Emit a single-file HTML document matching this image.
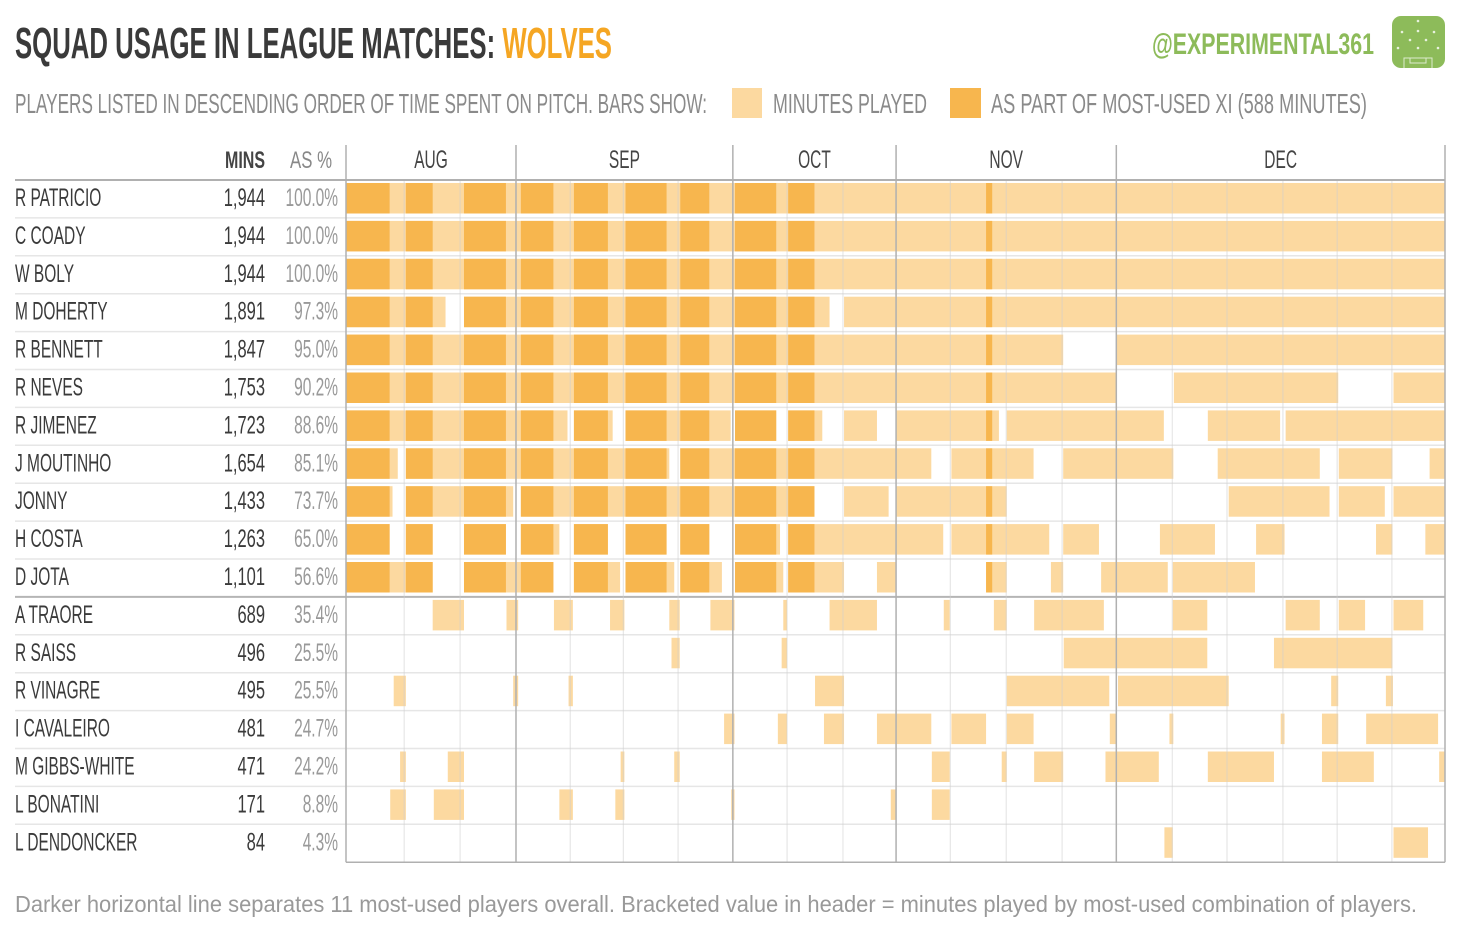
<!DOCTYPE html>
<html><head><meta charset="utf-8">
<style>
html,body{margin:0;padding:0;background:#fff;}
svg{display:block;}
text{font-family:"Liberation Sans",sans-serif;}
</style></head>
<body>
<svg id="chart" width="1460" height="934" viewBox="0 0 1460 934" xmlns="http://www.w3.org/2000/svg">
  <text x="15" y="58" font-size="44" font-weight="bold" fill="#3a3a3a" textLength="597" lengthAdjust="spacingAndGlyphs">SQUAD USAGE IN LEAGUE MATCHES: <tspan fill="#F5A623">WOLVES</tspan></text>
  <text x="1152" y="54" font-size="30" font-weight="bold" fill="#8DBB5A" textLength="222" lengthAdjust="spacingAndGlyphs">@EXPERIMENTAL361</text>
  <g>
    <rect x="1392" y="16" width="53" height="52" rx="9" fill="#8DBB5A"/>
    <g fill="#fff" opacity="0.8">
      <circle cx="1418" cy="21" r="1.3"/><circle cx="1402" cy="32" r="1.3"/><circle cx="1418" cy="31" r="1.3"/><circle cx="1434" cy="32" r="1.3"/>
      <circle cx="1410" cy="40" r="1.3"/><circle cx="1426" cy="40" r="1.3"/><circle cx="1398" cy="48" r="1.3"/><circle cx="1418" cy="48" r="1.3"/><circle cx="1438" cy="48" r="1.3"/>
    </g>
    <path d="M1404 68 V58 H1432 V68 M1410 58 V63 H1426 V58" fill="none" stroke="#fff" stroke-width="1" opacity="0.7"/>
  </g>
  <text x="15" y="113" font-size="28" fill="#8a8a8a" textLength="692" lengthAdjust="spacingAndGlyphs">PLAYERS LISTED IN DESCENDING ORDER OF TIME SPENT ON PITCH.  BARS SHOW:</text>
  <rect x="732" y="88" width="30" height="30" fill="#FCD9A0"/>
  <text x="773" y="113" font-size="28" fill="#8a8a8a" textLength="154" lengthAdjust="spacingAndGlyphs">MINUTES PLAYED</text>
  <rect x="950" y="88" width="31" height="30" fill="#F7B64E"/>
  <text x="991" y="113" font-size="28" fill="#8a8a8a" textLength="376" lengthAdjust="spacingAndGlyphs">AS PART OF MOST-USED XI  (588 MINUTES)</text>
  <text x="225" y="168" font-size="24" font-weight="bold" fill="#444" textLength="40" lengthAdjust="spacingAndGlyphs">MINS</text>
  <text x="290" y="168" font-size="24" fill="#888" textLength="42" lengthAdjust="spacingAndGlyphs">AS %</text>
  <g id="bars"></g>
  <g id="grid"></g>
  <g id="labels"></g>
  <text x="15" y="912" font-size="23" fill="#999" textLength="1402" lengthAdjust="spacingAndGlyphs">Darker horizontal line separates 11 most-used players overall.   Bracketed value in header = minutes played by most-used combination of players.</text>
</svg>
<script>
const players = ["R PATRICIO","C COADY","W BOLY","M DOHERTY","R BENNETT","R NEVES","R JIMENEZ","J MOUTINHO","JONNY","H COSTA","D JOTA","A TRAORE","R SAISS","R VINAGRE","I CAVALEIRO","M GIBBS-WHITE","L BONATINI","L DENDONCKER"];
const minutes = ["1,944","1,944","1,944","1,891","1,847","1,753","1,723","1,654","1,433","1,263","1,101","689","496","495","481","471","171","84"];
const percents = ["100.0%","100.0%","100.0%","97.3%","95.0%","90.2%","88.6%","85.1%","73.7%","65.0%","56.6%","35.4%","25.5%","25.5%","24.7%","24.2%","8.8%","4.3%"];
const months = ["AUG","SEP","OCT","NOV","DEC"];
const monthStarts = [0,3,7,10,14];
const monthEnds = [3,7,10,14,20];
// minutes (incl. stoppage) of each match
const matchMinutes = [103,99,99,96,94,97,97,96,99,94,96,99,99,96,99,97,99,96,97,94];
// segments in match units (0..20): periods on pitch
const played = [
 [[0,20]],
 [[0,20]],
 [[0,20]],
 [[0,1.74],[2.07,8.76],[9.02,20]],
 [[0,13.02],[14.01,20]],
 [[0,14.0],[15.03,18.02],[19.03,20]],
 [[0,3.95],[4.07,4.8],[5.04,6.96],[7.04,7.8],[8.02,8.63],[9.02,9.64],[10,11.87],[12.01,14.85],[15.65,16.95],[17.05,20]],
 [[0,0.89],[1.03,5.84],[6.04,10.65],[11.02,12.49],[13.02,15.02],[15.83,17.68],[18.03,19.01],[19.71,20]],
 [[0,0.8],[1.03,2.95],[3.09,8.49],[9.02,9.86],[10,12.01],[16.03,17.86],[18.03,18.87],[19.03,20]],
 [[0,0.75],[1.03,1.51],[2.07,2.82],[3.09,3.8],[4.07,4.71],[5.04,5.79],[6.04,6.57],[7.04,7.87],[8.02,10.87],[11.02,12.77],[13.02,13.68],[14.78,15.78],[16.52,17.03],[18.71,19.01],[19.63,20]],
 [[0,1.51],[2.07,3.69],[4.07,4.94],[5.04,5.93],[6.04,6.8],[7.04,7.93],[8.02,9.02],[9.64,10.0],[11.64,12.01],[12.8,13.02],[13.72,14.92],[15.01,16.5]],
 [[1.51,2.07],[2.83,3.04],[3.7,4.05],[4.75,5.02],[5.84,6.03],[6.59,7.03],[7.93,8.0],[8.76,9.64],[10.88,10.99],[11.78,12.01],[12.5,13.77],[15.01,15.64],[17.05,17.68],[18.03,18.51],[19.03,19.59]],
 [[5.88,6.03],[7.9,8.0],[13.03,15.64],[16.84,19.01]],
 [[0.82,1.03],[2.95,3.04],[3.97,4.05],[8.5,9.02],[12.01,13.87],[14.03,16.03],[17.89,18.02],[18.89,19.02]],
 [[6.84,7.03],[7.83,8.0],[8.66,9.02],[9.64,10.65],[11.02,11.64],[12.01,12.49],[13.88,14.01],[14.95,15.02],[16.96,17.03],[17.72,18.02],[18.53,19.87]],
 [[0.93,1.03],[1.78,2.07],[4.95,5.02],[5.93,6.03],[10.66,10.99],[11.92,12.01],[12.5,13.02],[13.8,14.76],[15.65,16.84],[17.72,18.67],[19.89,20]],
 [[0.76,1.03],[1.53,2.07],[3.8,4.05],[4.85,5.02],[6.97,7.03],[9.9,10.0],[10.66,10.99]],
 [[14.86,15.01],[19.03,19.68]]
];
// periods when the most-used XI was on the pitch
const xiPeriods = [[0,0.75],[1.03,1.51],[2.07,2.82],[3.09,3.69],[4.07,4.71],[5.04,5.79],[6.04,6.57],[7.04,7.8],[8.02,8.49],[11.64,11.75]];
const xiCount = 11;

const NS = "http://www.w3.org/2000/svg";
const X0 = 346, X1 = 1445, TOP = 180, ROWH = 37.9;
const matchCount = matchMinutes.length;
const totalMin = matchMinutes.reduce((a,b)=>a+b,0);
const cum = [0]; matchMinutes.forEach(m=>cum.push(cum[cum.length-1]+m));
const xs = v => { const k=Math.min(Math.floor(v),matchCount-1); const f=v-k; return X0 + (cum[k]+f*matchMinutes[k])*(X1-X0)/totalMin; };
const rowY = i => TOP + i * ROWH;
function mk(tag, attrs, parent){ const e=document.createElementNS(NS,tag); for(const k in attrs) e.setAttribute(k,attrs[k]); parent.appendChild(e); return e; }
const bars = document.getElementById('bars'), grid = document.getElementById('grid'), labels = document.getElementById('labels');

players.forEach((p,i)=>{
  const y = rowY(i);
  played[i].forEach(s=>{
    const r = mk('rect',{x:xs(s[0]),y:y+3,width:Math.max(0,xs(s[1])-xs(s[0])),height:30.5,fill:'#FCD9A0'},bars);
    
    
  });
  if(i < xiCount){
    played[i].forEach(s=>{
      xiPeriods.forEach(q=>{
        const a=Math.max(s[0],q[0]), b=Math.min(s[1],q[1]);
        if(b>a){
          const r = mk('rect',{x:xs(a),y:y+3,width:xs(b)-xs(a),height:30.5,fill:'#F7B64E'},bars);
          
          
        }
      });
    });
  }
  const n = mk('text',{transform:`translate(15,${y+26}) scale(0.62,1)`,'font-size':25,fill:'#3a3a3a'},labels);
  n.textContent = p;
  
  
  const m = mk('text',{transform:`translate(265,${y+26}) scale(0.66,1)`,'font-size':25,fill:'#3a3a3a','text-anchor':'end'},labels);
  m.textContent = minutes[i];
  
  
  const pc = mk('text',{transform:`translate(338,${y+26}) scale(0.62,1)`,'font-size':25,fill:'#999','text-anchor':'end'},labels);
  pc.textContent = percents[i];
  
  
  if(i>0){
    const l = mk('line',{x1:15,x2:X1,y1:y,y2:y,stroke:i===xiCount?'#b5b5b5':'#e6e6e6','stroke-width':i===xiCount?2:1.5},grid);
    
    
  }
});
for(let k=1;k<matchCount;k++){
  if(monthStarts.includes(k)) continue;
  const l = mk('line',{x1:xs(k),x2:xs(k),y1:TOP,y2:rowY(players.length),stroke:'#cfcfcf','stroke-width':1,opacity:0.6},grid);
  
  
}
months.forEach((mo,j)=>{
  const xa = xs(monthStarts[j]), xb = monthEnds[j]>=matchCount ? X1 : xs(monthEnds[j]);
  const l = mk('line',{x1:xa,x2:xa,y1:145,y2:rowY(players.length),stroke:'#b0b0b0','stroke-width':1.5},grid);
  
  
  const t = mk('text',{transform:`translate(${(xa+xb)/2},168) scale(0.62,1)`,'font-size':25,fill:'#444','text-anchor':'middle'},labels);
  t.textContent = mo;
  
  
});
const re = mk('line',{x1:X1,x2:X1,y1:145,y2:rowY(players.length),stroke:'#b0b0b0','stroke-width':1.5},grid);


const hl = mk('line',{x1:15,x2:X1,y1:TOP,y2:TOP,stroke:'#b0b0b0','stroke-width':2},grid);


const bl = mk('line',{x1:346,x2:X1,y1:rowY(players.length),y2:rowY(players.length),stroke:'#b0b0b0','stroke-width':1.5},grid);


</script>
</body></html>
